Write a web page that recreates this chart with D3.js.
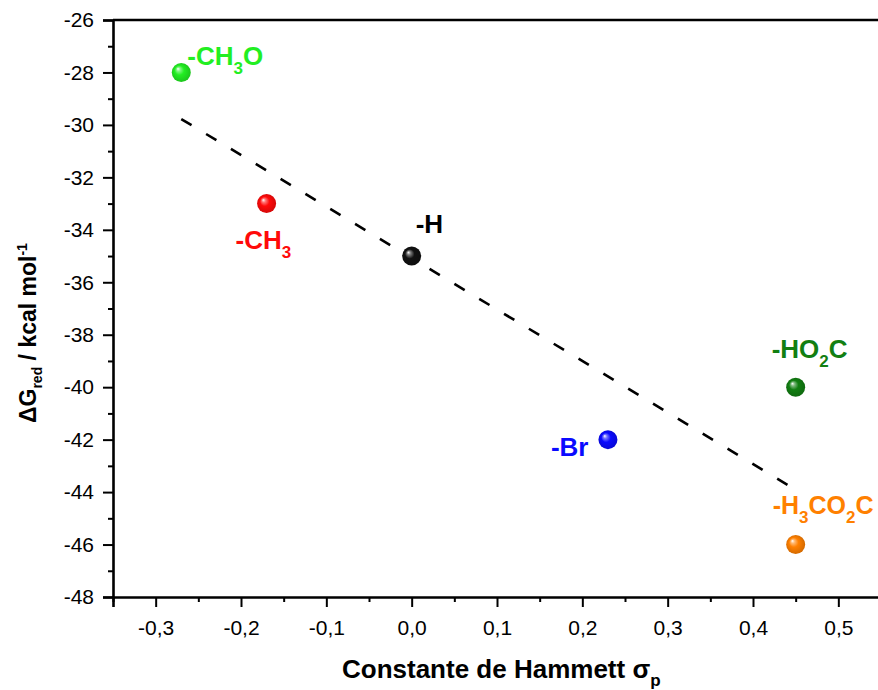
<!DOCTYPE html>
<html>
<head>
<meta charset="utf-8">
<script src="https://cdn.jsdelivr.net/npm/d3@7/dist/d3.min.js"></script>
<style>
  html, body { margin: 0; padding: 0; background: #fff; }
  svg { display: block; font-family: Arial, "Liberation Sans", sans-serif; }
</style>
</head>
<body>
<svg id="chart" width="878" height="690"></svg>
<script>
// Substituent series: Hammett sigma_p vs reduction free energy
const substituents = ["-CH_3O", "-CH_3", "-H", "-Br", "-HO_2C", "-H_3CO_2C"];
const sigmaP = [-0.27, -0.17, 0.00, 0.23, 0.45, 0.45];
const deltaG = [-28, -33, -35, -42, -40, -46];
const pointColors = ["#22ee22", "#ff0a0a", "#111111", "#0a0aff", "#127f12", "#ff8000"];
const labelColors = ["#22ee22", "#ff0a0a", "#000000", "#0a0aff", "#127f12", "#ff8000"];

// Axis ticks
const xMajorTicks = [-0.3, -0.2, -0.1, 0.0, 0.1, 0.2, 0.3, 0.4, 0.5];
const xTickLabels = ["-0,3", "-0,2", "-0,1", "0,0", "0,1", "0,2", "0,3", "0,4", "0,5"];
const yMajorTicks = [-48, -46, -44, -42, -40, -38, -36, -34, -32, -30, -28, -26];
const yTickLabels = ["-48", "-46", "-44", "-42", "-40", "-38", "-36", "-34", "-32", "-30", "-28", "-26"];

const svg = d3.select("#chart");
const plot = { left: 113, top: 20, right: 881, bottom: 597 };

const x = d3.scaleLinear().domain([-0.35, 0.55]).range([plot.left, plot.right]);
const y = d3.scaleLinear().domain([-48, -26]).range([plot.bottom, plot.top]);

// Label placement relative to each marker (dx, dy to text start/baseline, font size)
const labelPlacement = {
  "-CH_3O": [6, -7, 26],
  "-CH_3": [-31, 45, 26],
  "-H": [4, -23, 26],
  "-Br": [-57, 16, 26],
  "-HO_2C": [-24, -29, 26],
  "-H_3CO_2C": [-23, -31, 25]
};

// Minor ticks halfway between majors
const xMinor = d3.range(-0.35, 0.551, 0.1).map(v => +v.toFixed(2));
const yMinor = d3.range(-47, -26, 2);

// X axis
svg.append("g").attr("transform", `translate(0,${plot.bottom})`)
  .call(d3.axisBottom(x).tickValues(xMajorTicks).tickSize(10).tickPadding(13)
    .tickFormat((d, i) => xTickLabels[i]));
svg.append("g").attr("transform", `translate(0,${plot.bottom})`)
  .call(d3.axisBottom(x).tickValues(xMinor).tickSize(5).tickFormat(""))
  .call(g => g.select(".domain").remove());

// Y axis
svg.append("g").attr("transform", `translate(${plot.left},0)`)
  .call(d3.axisLeft(y).tickValues(yMajorTicks).tickSize(10).tickPadding(9)
    .tickFormat((d, i) => yTickLabels[i]));
svg.append("g").attr("transform", `translate(${plot.left},0)`)
  .call(d3.axisLeft(y).tickValues(yMinor).tickSize(5).tickFormat(""))
  .call(g => g.select(".domain").remove());

// Plain axis lines without end caps
svg.selectAll(".domain").attr("stroke", "#000").attr("stroke-width", 2.6)
  .attr("d", function() { return d3.select(this).attr("d").replace(/V6|H-6/g, m => m[0] === "V" ? "V0" : "H0"); });
svg.selectAll(".tick line").attr("stroke", "#000").attr("stroke-width", 2);
svg.selectAll(".tick text").attr("font-size", 21).attr("fill", "#000")
  .attr("font-family", "Arial, 'Liberation Sans', sans-serif");

// Top frame line
svg.append("line")
  .attr("x1", plot.left).attr("x2", plot.right)
  .attr("y1", plot.top).attr("y2", plot.top)
  .attr("stroke", "#000").attr("stroke-width", 2.6);

// Linear fit through all substituents
const n = sigmaP.length;
const mx = d3.mean(sigmaP), my = d3.mean(deltaG);
let sxy = 0, sxx = 0;
for (let i = 0; i < n; i++) {
  sxy += (sigmaP[i] - mx) * (deltaG[i] - my);
  sxx += (sigmaP[i] - mx) ** 2;
}
const slope = sxy / sxx, intercept = my - slope * mx;
const [fx0, fx1] = d3.extent(sigmaP);
svg.append("line")
  .attr("x1", x(fx0)).attr("y1", y(intercept + slope * fx0))
  .attr("x2", x(fx1)).attr("y2", y(intercept + slope * fx1))
  .attr("stroke", "#000").attr("stroke-width", 2.6)
  .attr("stroke-dasharray", "12,17");

// Shaded sphere markers
const defs = svg.append("defs");
pointColors.forEach((c, i) => {
  const g = defs.append("radialGradient").attr("id", "ball" + i)
    .attr("cx", "50%").attr("cy", "50%").attr("r", "55%")
    .attr("fx", "32%").attr("fy", "30%");
  g.append("stop").attr("offset", "0%").attr("stop-color", "#ffffff");
  g.append("stop").attr("offset", "18%").attr("stop-color", d3.interpolateRgb("#ffffff", c)(0.55));
  g.append("stop").attr("offset", "45%").attr("stop-color", c);
  g.append("stop").attr("offset", "100%").attr("stop-color", d3.color(c).darker(0.6));
});

svg.append("g").selectAll("circle")
  .data(sigmaP.map((s, i) => ({ s, g: deltaG[i], i })))
  .join("circle")
  .attr("cx", d => x(d.s)).attr("cy", d => y(d.g)).attr("r", 9.5)
  .attr("fill", d => `url(#ball${d.i})`);

// Point labels with subscripts
function addRich(sel, text, subSize, shift) {
  const parts = text.split(/(_\d+)/).filter(p => p.length);
  let shifted = false;
  parts.forEach(p => {
    if (p.startsWith("_")) {
      sel.append("tspan").attr("font-size", subSize).attr("dy", shift).text(p.slice(1));
      shifted = true;
    } else {
      sel.append("tspan").attr("dy", shifted ? -shift : 0).text(p);
      shifted = false;
    }
  });
}

substituents.forEach((name, i) => {
  const [dx, dy, fs] = labelPlacement[name];
  const t = svg.append("text")
    .attr("x", x(sigmaP[i]) + dx).attr("y", y(deltaG[i]) + dy)
    .attr("font-size", fs).attr("font-weight", "bold")
    .attr("fill", labelColors[i]);
  addRich(t, name, 17, 9);
});

// Axis titles
const xt = svg.append("text").attr("x", 342).attr("y", 678)
  .attr("font-size", 26).attr("font-weight", "bold").attr("fill", "#000");
xt.append("tspan").text("Constante de Hammett σ");
xt.append("tspan").attr("font-size", 17).attr("dy", 8).text("p");

const yt = svg.append("text")
  .attr("transform", "translate(36,423) rotate(-90)")
  .attr("font-size", 23).attr("font-weight", "bold").attr("fill", "#000");
yt.append("tspan").text("ΔG");
yt.append("tspan").attr("font-size", 14).attr("dy", 6).text("red");
yt.append("tspan").attr("dy", -6).text(" / kcal mol");
yt.append("tspan").attr("font-size", 14).attr("dy", -9).text("-1");
</script>
</body>
</html>
